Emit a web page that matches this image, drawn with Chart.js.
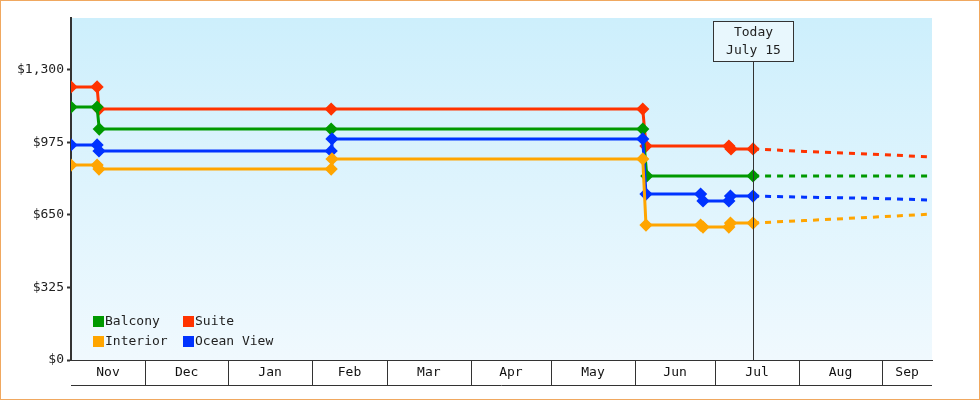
<!DOCTYPE html>
<html><head><meta charset="utf-8">
<script src="https://cdn.jsdelivr.net/npm/chart.js@4"></script>
<style>html,body{margin:0;padding:0;background:#fff}#w{width:978px;height:398px;border:1px solid #f0a860;position:relative}</style>
</head><body><div id="w"><canvas id="c" width="978" height="398"></canvas></div>
<script>
// days counted from Oct 31 (Nov 1 = day 1)
const monthLabels = ['Nov','Dec','Jan','Feb','Mar','Apr','May','Jun','Jul','Aug','Sep'];
const monthStarts = [2.5,30,61,92,120,151,181,212,242,273,304,322.5];
const todayDay = 256;
const todayLabel = ['Today','July 15'];
const yTicks = [0,325,650,975,1300];

const suiteX = [2.5,12.2,12.9,99.2,215,216.2,247,247.8,256];
const suiteY = [1224,1224,1125,1125,1125,959,959,946,946];
const suiteFX = [256,275,290,305,322.5];
const suiteFY = [946,935,928,920,910];

const balconyX = [2.5,12.2,13,99.2,215,216.5,256];
const balconyY = [1134,1134,1035,1035,1035,825,825];
const balconyFX = [256,322.5];
const balconyFY = [825,825];

const oceanX = [2.5,12.2,12.9,99.2,99.5,215,216.2,236.5,237.4,247,247.6,256];
const oceanY = [964,964,937,937,991,991,744,744,713,713,735,735];
const oceanFX = [256,275,300,322.5];
const oceanFY = [735,730,725,717];

const interiorX = [2.5,12.2,12.9,99.2,99.5,215,216.2,236.5,237.4,247,247.6,256];
const interiorY = [874,874,856,856,901,901,605,605,596,596,614,614];
const interiorFX = [256,275,300,322.5];
const interiorFY = [614,625,640,654];

const colors = {Balcony:'#009900',Suite:'#ff3300',Interior:'#ffa500','Ocean View':'#0033ff'};
const FONT = '"DejaVu Sans Mono", monospace';
const pts = (xs,ys)=>xs.map((x,i)=>({x,y:ys[i]}));
function solid(label,xs,ys){return {label,data:pts(xs,ys),borderColor:colors[label],backgroundColor:colors[label],borderWidth:3,pointStyle:'rectRot',pointRadius:4.5,pointHoverRadius:4.5,tension:0};}
function dashed(label,xs,ys){return {label:label+' forecast',data:pts(xs,ys),borderColor:colors[label],borderWidth:3,borderDash:[6,6],pointRadius:0,tension:0};}

const deco = {
  id:'deco',
  beforeDraw(ch){
    const {ctx,chartArea:a}=ch;
    const g=ctx.createLinearGradient(0,a.top,0,a.bottom);
    g.addColorStop(0,'#cdeffc');g.addColorStop(1,'#f0f9fe');
    ctx.save();ctx.fillStyle=g;ctx.fillRect(a.left,a.top,a.right-a.left,a.bottom-a.top);ctx.restore();
  },
  afterDraw(ch){
    const {ctx,chartArea:a,scales:{x}}=ch;
    ctx.save();
    ctx.strokeStyle='#333';ctx.lineWidth=1;
    // month band
    const yb=a.bottom+25;
    ctx.beginPath();ctx.moveTo(a.left,yb+0.5);ctx.lineTo(a.right,yb+0.5);ctx.stroke();
    ctx.font='13px '+FONT;ctx.fillStyle='#111';ctx.textAlign='center';ctx.textBaseline='middle';
    for(let i=0;i<monthLabels.length;i++){
      const x0=x.getPixelForValue(monthStarts[i]),x1=x.getPixelForValue(monthStarts[i+1]);
      if(i>0){ctx.beginPath();ctx.moveTo(Math.round(x0)+0.5,a.bottom);ctx.lineTo(Math.round(x0)+0.5,yb);ctx.stroke();}
      ctx.fillText(monthLabels[i],(x0+x1)/2,a.bottom+13);
    }
    // today
    const tx=Math.round(x.getPixelForValue(todayDay))+0.5;
    ctx.beginPath();ctx.moveTo(tx,60);ctx.lineTo(tx,a.bottom);ctx.stroke();
    ctx.fillStyle='#e8f7fd';ctx.fillRect(tx-40,20,80,40);ctx.strokeRect(tx-40,20.5,80,40);
    ctx.fillStyle='#222';ctx.fillText(todayLabel[0],tx,32);ctx.fillText(todayLabel[1],tx,50);
    // legend
    const items=['Balcony','Suite','Interior','Ocean View'];
    ctx.textAlign='left';
    items.forEach((n,i)=>{
      const lx=a.left+22+(i%2)*90, ly=320+Math.floor(i/2)*20;
      ctx.fillStyle=colors[n];ctx.fillRect(lx,ly-5,11,11);
      ctx.fillStyle='#222';ctx.fillText(n,lx+12,ly+1);
    });
    ctx.restore();
  }
};

new Chart(document.getElementById('c'),{
  type:'line',
  data:{datasets:[
    dashed('Suite',suiteFX,suiteFY),dashed('Balcony',balconyFX,balconyFY),
    dashed('Ocean View',oceanFX,oceanFY),dashed('Interior',interiorFX,interiorFY),
    solid('Interior',interiorX,interiorY),solid('Ocean View',oceanX,oceanY),
    solid('Balcony',balconyX,balconyY),solid('Suite',suiteX,suiteY)
  ]},
  options:{
    responsive:false,animation:false,
    layout:{padding:{top:17,right:47,left:0,bottom:0}},
    plugins:{legend:{display:false},tooltip:{enabled:false}},
    scales:{
      x:{type:'linear',min:monthStarts[0],max:monthStarts[monthStarts.length-1],
        ticks:{display:false},grid:{display:false},border:{color:'#333',width:1},
        afterFit(s){s.height=39;}},
      y:{min:0,max:1533,
        afterBuildTicks(s){s.ticks=yTicks.map(v=>({value:v}));},
        afterFit(s){s.width=70;},
        ticks:{color:'#222',font:{family:FONT,size:13},padding:3,callback:v=>'$'+v.toLocaleString('en-US')},
        grid:{drawOnChartArea:false,tickLength:4,color:'#333',tickWidth:2},
        border:{color:'#333',width:2}}
    }
  },
  plugins:[deco]
});
</script></body></html>
